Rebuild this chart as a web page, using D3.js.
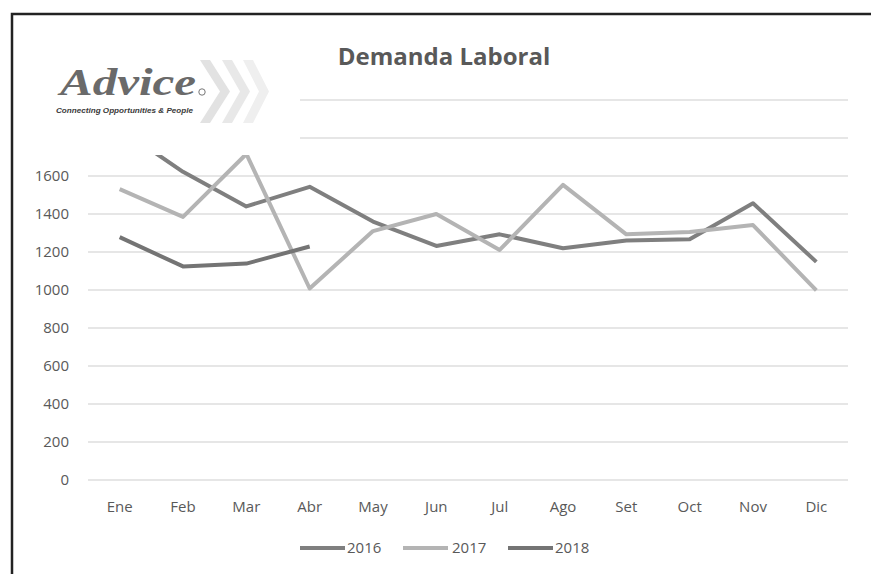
<!DOCTYPE html>
<html>
<head>
<meta charset="utf-8">
<script src="https://cdn.jsdelivr.net/npm/d3@7"></script>
<style>
  html, body { margin: 0; padding: 0; background: #fff; }
  svg { display: block; }
</style>
</head>
<body>
<svg id="chart" width="871" height="574"></svg>
<script>
const months = ["Ene","Feb","Mar","Abr","May","Jun","Jul","Ago","Set","Oct","Nov","Dic"];
const yTicks = [0, 200, 400, 600, 800, 1000, 1200, 1400, 1600, 1800, 2000];
// labels 1800 and 2000 are hidden behind the logo in the source
const yTickLabels = [0, 200, 400, 600, 800, 1000, 1200, 1400, 1600];
const values2016 = [1850, 1622, 1440, 1543, 1360, 1232, 1293, 1220, 1260, 1267, 1457, 1148];
const values2017 = [1531, 1385, 1716, 1008, 1310, 1400, 1211, 1553, 1293, 1305, 1342, 998];
const values2018 = [1278, 1124, 1139, 1229];
const seriesNames = ["2016", "2017", "2018"];
const seriesColors = ["#7f7f7f", "#b4b4b4", "#747474"];

const series = [values2016, values2017, values2018].map((v, i) => ({
  name: seriesNames[i], color: seriesColors[i],
  points: v.map((d, j) => ({ m: months[j], v: d }))
}));

const svg = d3.select("#chart");
const W = 871, H = 574;
const plot = { left: 88, right: 848, top: 100, bottom: 480 };

const x = d3.scaleBand().domain(months).range([plot.left, plot.right]);
const y = d3.scaleLinear().domain([0, 2000]).range([plot.bottom, plot.top]);
const font = "'Open Sans', sans-serif";
const textColor = "#595959";

// gridlines
svg.append("g").selectAll("line").data(yTicks).join("line")
  .attr("x1", plot.left).attr("x2", plot.right)
  .attr("y1", d => y(d)).attr("y2", d => y(d))
  .attr("stroke", "#dedede").attr("stroke-width", 1.5);

// y labels
svg.append("g").selectAll("text").data(yTickLabels).join("text")
  .attr("x", 69).attr("y", d => y(d)).attr("dy", "0.36em")
  .attr("text-anchor", "end")
  .attr("font-family", font).attr("font-size", 15).attr("fill", textColor)
  .text(d => d);

// x labels
svg.append("g").selectAll("text").data(months).join("text")
  .attr("x", d => x(d) + x.bandwidth() / 2).attr("y", 512)
  .attr("text-anchor", "middle")
  .attr("font-family", font).attr("font-size", 15).attr("fill", textColor)
  .text(d => d);

// lines
const line = d3.line().x(d => x(d.m) + x.bandwidth() / 2).y(d => y(d.v));
svg.append("g").selectAll("path").data(series).join("path")
  .attr("d", d => line(d.points))
  .attr("fill", "none").attr("stroke", d => d.color)
  .attr("stroke-width", 4).attr("stroke-linejoin", "round").attr("stroke-linecap", "butt");

// legend
const legendItems = [
  { s: series[0], lx: 300, tx: 347 },
  { s: series[1], lx: 403, tx: 452 },
  { s: series[2], lx: 508, tx: 555 }
];
const lg = svg.append("g");
legendItems.forEach(it => {
  lg.append("line").attr("x1", it.lx).attr("x2", it.lx + 45)
    .attr("y1", 548).attr("y2", 548)
    .attr("stroke", it.s.color).attr("stroke-width", 4);
  lg.append("text").attr("x", it.tx).attr("y", 548).attr("dy", "0.36em")
    .attr("font-family", font).attr("font-size", 15).attr("fill", textColor)
    .text(it.s.name);
});

// logo overlay (covers top-left of plot, as in the source image)
const logo = svg.append("g");
logo.append("rect").attr("x", 14).attr("y", 15).attr("width", 286).attr("height", 140).attr("fill", "#fff");
const chev = [
  { x0: 200, w: 30, c: "#e2e2e2" },
  { x0: 222, w: 28, c: "#e8e8e8" },
  { x0: 243, w: 26, c: "#efefef" }
];
chev.forEach(c => {
  const top = 60, bot = 123, mid = (top + bot) / 2, t = 10;
  logo.append("path")
    .attr("d", `M${c.x0},${top} L${c.x0 + t},${top} L${c.x0 + c.w},${mid} L${c.x0 + t},${bot} L${c.x0},${bot} L${c.x0 + c.w - t},${mid} Z`)
    .attr("fill", c.c);
});
logo.append("text").attr("x", 60).attr("y", 95)
  .attr("font-family", "'Liberation Serif', serif").attr("font-weight", "bold").attr("font-style", "italic")
  .attr("font-size", 38).attr("fill", "#6a6a6a")
  .attr("textLength", 136).attr("lengthAdjust", "spacingAndGlyphs")
  .text("Advice");
logo.append("circle").attr("cx", 202).attr("cy", 92).attr("r", 3.2)
  .attr("fill", "none").attr("stroke", "#777").attr("stroke-width", 1);
logo.append("text").attr("x", 56).attr("y", 113)
  .attr("font-family", "'Liberation Sans', sans-serif").attr("font-weight", "bold").attr("font-style", "italic")
  .attr("font-size", 7).attr("fill", "#3a3a3a")
  .attr("textLength", 137).attr("lengthAdjust", "spacingAndGlyphs")
  .text("Connecting Opportunities & People");

// title
svg.append("text").attr("x", 444).attr("y", 65).attr("text-anchor", "middle")
  .attr("font-family", font).attr("font-weight", "bold").attr("font-size", 24)
  .attr("fill", "#595959").text("Demanda Laboral");

// frame
svg.append("path").attr("d", `M12,${H + 5} L12,14 L${W + 5},14`)
  .attr("fill", "none").attr("stroke", "#222").attr("stroke-width", 2.5);
</script>
</body>
</html>
